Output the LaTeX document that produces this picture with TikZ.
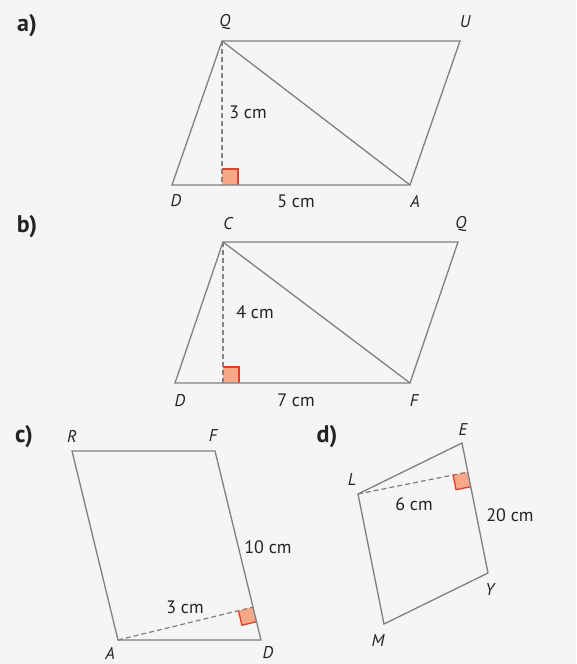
\documentclass[tikz,border=0pt]{standalone}
\usepackage{fontspec}
\setmainfont{PT Sans}
\definecolor{figgray}{RGB}{128,128,128}
\definecolor{anglefill}{RGB}{246,168,136}
\definecolor{anglered}{RGB}{230,60,40}
\definecolor{pagegray}{RGB}{245,245,245}
\definecolor{inkdark}{RGB}{35,35,35}
\usetikzlibrary{calc, positioning}

\begin{document}
\begin{tikzpicture}[x=1pt, y=-1pt,
    side/.style={draw=figgray, line width=1.3pt},
    heightline/.style={draw=figgray, line width=1.2pt, dash pattern=on 5pt off 3pt},
    raedge/.style={draw=anglered, line width=1.3pt},
    vtx/.style={text=inkdark, inner sep=0pt, font=\fontsize{17}{19}\selectfont\itshape},
    len/.style={text=inkdark, inner sep=0pt, font=\fontsize{18}{20}\selectfont},
    part/.style={text=inkdark, inner sep=0pt, font=\fontsize{24}{27}\selectfont\bfseries}]
        \fill [pagegray] (0,0) rectangle (576,664);
        \useasboundingbox (0,0) rectangle (576,664);

        % a)
        \coordinate (Qa) at (222,41);
        \coordinate (Ua) at (460,41);
        \coordinate (Aa) at (410,185);
        \coordinate (Da) at (172,185);
        \coordinate (Ha) at (222,185);
        \fill [anglefill] (Ha) rectangle ++(16,-16);
        \draw [raedge] (Ha) ++(0,-16) -- ++(16,0) -- ++(0,16);
        \draw [side] (Qa) -- (Ua) -- (Aa) -- (Da) -- cycle;
        \draw [side] (Qa) -- (Aa);
        \draw [heightline] (Qa) -- (Ha);
        \node [part] (parta) at (27,26) {a)};
        \node [vtx] (labQa) at (225,22) {Q};
        \node [vtx] (labUa) at (465,22) {U};
        \node [vtx] (labDa) at (176,201) {D};
        \node [vtx] (labAa) at (415,201) {A};
        \node [len] (basea) at (296,201) {5 cm};
        \node [len] (hgta) at (248,112) {3 cm};

        % b)
        \coordinate (Cb) at (223,242);
        \coordinate (Qb) at (458,242);
        \coordinate (Fb) at (410,383);
        \coordinate (Db) at (175,383);
        \coordinate (Hb) at (223,383);
        \fill [anglefill] (Hb) rectangle ++(16,-16);
        \draw [raedge] (Hb) ++(0,-16) -- ++(16,0) -- ++(0,16);
        \draw [side] (Cb) -- (Qb) -- (Fb) -- (Db) -- cycle;
        \draw [side] (Cb) -- (Fb);
        \draw [heightline] (Cb) -- (Hb);
        \node [part] (partb) at (27,227) {b)};
        \node [vtx] (labCb) at (228,224) {C};
        \node [vtx] (labQb) at (461,224) {Q};
        \node [vtx] (labDb) at (180,401) {D};
        \node [vtx] (labFb) at (414,401) {F};
        \node [len] (baseb) at (296,400) {7 cm};
        \node [len] (hgtb) at (255,312) {4 cm};

        % c)
        \coordinate (Rc) at (72,451);
        \coordinate (Fc) at (215,451);
        \coordinate (Dc) at (261,640);
        \coordinate (Ac) at (118,640);
        \coordinate (Hc) at ($(Fc)!(Ac)!(Dc)$);
        \coordinate (Hc1) at ($(Hc)!15pt!(Dc)$);
        \coordinate (Hc2) at ($(Hc)!15pt!(Ac)$);
        \coordinate (Hc3) at ($(Hc1)+(Hc2)-(Hc)$);
        \fill [anglefill] (Hc) -- (Hc1) -- (Hc3) -- (Hc2) -- cycle;
        \draw [raedge] (Hc1) -- (Hc3) -- (Hc2);
        \draw [side] (Rc) -- (Fc) -- (Dc) -- (Ac) -- cycle;
        \draw [heightline] (Ac) -- (Hc);
        \node [part] (partc) at (24,437) {c)};
        \node [vtx] (labRc) at (72,436) {R};
        \node [vtx] (labFc) at (213,436) {F};
        \node [vtx] (labAc) at (110,653) {A};
        \node [vtx] (labDc) at (268,653) {D};
        \node [len] (sidec) at (268,547) {10 cm};
        \node [len] (hgtc) at (185,607) {3 cm};

        % d)
        \coordinate (Ed) at (462,443);
        \coordinate (Ld) at (358,494);
        \coordinate (Md) at (384,624);
        \coordinate (Yd) at (488,573);
        \coordinate (Hd) at ($(Ed)!(Ld)!(Yd)$);
        \coordinate (Hd1) at ($(Hd)!15pt!(Yd)$);
        \coordinate (Hd2) at ($(Hd)!15pt!(Ld)$);
        \coordinate (Hd3) at ($(Hd1)+(Hd2)-(Hd)$);
        \fill [anglefill] (Hd) -- (Hd1) -- (Hd3) -- (Hd2) -- cycle;
        \draw [raedge] (Hd1) -- (Hd3) -- (Hd2);
        \draw [side] (Ed) -- (Ld) -- (Md) -- (Yd) -- cycle;
        \draw [heightline] (Ld) -- (Hd);
        \node [part] (partd) at (327,437) {d)};
        \node [vtx] (labEd) at (463,430) {E};
        \node [vtx] (labLd) at (352,480) {L};
        \node [vtx] (labMd) at (378,641) {M};
        \node [vtx] (labYd) at (490,590) {Y};
        \node [len] (hgtd) at (414,504) {6 cm};
        \node [len] (sided) at (510,515) {20 cm};
    \end{tikzpicture}
\end{document}
